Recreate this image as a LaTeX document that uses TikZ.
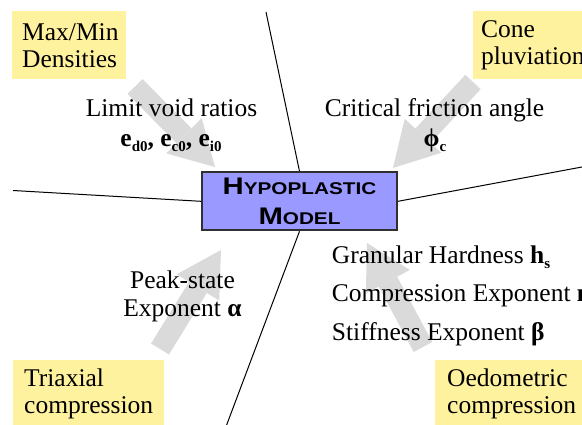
\documentclass[tikz,border=0pt]{standalone}
\usepackage{fontspec}
\setmainfont{Liberation Serif}
\newfontfamily\modelfont{Liberation Sans}[FakeStretch=1.22]
\usetikzlibrary{arrows.meta,positioning,backgrounds}
\definecolor{modelblue}{HTML}{9999FF}
\definecolor{padyellow}{HTML}{FFF29E}
\definecolor{arrowgray}{HTML}{DADADA}
\definecolor{rimgray}{HTML}{303030}
\newcommand\smallcap[1]{{\fontsize{17}{30}\selectfont #1}}
\newcommand\lowsub[1]{\raisebox{-5pt}{\fontsize{15}{15}\selectfont #1}}
\tikzset{
  model/.style={draw=rimgray, line width=2pt, fill=modelblue, minimum width=195pt, minimum height=58pt, align=center, inner sep=0pt, font=\modelfont\bfseries\fontsize{24}{30}\selectfont},
  testbox/.style={fill=padyellow, align=left, anchor=north west, minimum height=68pt, inner xsep=11pt, inner ysep=0pt, font=\fontsize{25.5}{27}\selectfont},
  txt/.style={inner sep=0pt, font=\fontsize{25.5}{27}\selectfont},
  spoke/.style={line width=1pt, black},
  fat/.style={draw=arrowgray, line width=21pt, -{Triangle[length=44pt, width=50pt, line width=0pt]}},
}
\begin{document}
\begin{tikzpicture}[x=1pt,y=-1pt]
\useasboundingbox (0,0) rectangle (582,424);
\node[model] (m) at (299.5,201.3) {H\smallcap{YPOPLASTIC}\\M\smallcap{ODEL}};
% test boxes in the corners
\node[testbox, inner xsep=10pt, text width=94pt] (dens) at (12,11) {Max/Min\\Densities};
\node[testbox, inner xsep=8pt, text width=130pt] (cone) at (473,11) {Cone\\pluviation};
\node[testbox, text width=129pt] (tri) at (13,360) {Triaxial\\compression};
\node[testbox, inner xsep=12pt, text width=140pt] (oed) at (435,360) {Oedometric\\compression};
% spoke ends and arrow ends
\coordinate (st) at (266,12);
\coordinate (sl) at (13,190.5);
\coordinate (sr) at (590,165.5);
\coordinate (sb) at (225.5,428);
\coordinate (a1) at (135,86.5);  \coordinate (b1) at (215,167);
\coordinate (a2) at (473,82);    \coordinate (b2) at (393,168);
\coordinate (a3) at (160,349);   \coordinate (b3) at (221,250);
\coordinate (a4) at (423,347);   \coordinate (b4) at (367,243);
\begin{scope}[on background layer]
\draw[spoke] (st) -- (m.north);
\draw[spoke] (sl) -- (m.west);
\draw[spoke] (sr) -- (m.east);
\draw[spoke] (sb) -- (m.south);
\draw[fat] (a1) -- (b1);
\draw[fat] (a2) -- (b2);
\draw[fat] (a3) -- (b3);
\draw[fat] (a4) -- (b4);
\end{scope}
% parameters
\node[txt, anchor=base] (void) at (171.5,116.7) {Limit void ratios};
\node[txt, anchor=base] (voide) at (171,146.7) {\bfseries e\lowsub{d0}, e\lowsub{c0}, e\lowsub{i0}};
\node[txt, anchor=base] (crit) at (434.5,116.7) {Critical friction angle};
\node[txt, anchor=base] (phi) at (435,146.7) {\bfseries ϕ\lowsub{c}};
\node[txt, anchor=base] (peak) at (182.5,288) {Peak-state};
\node[txt, anchor=base] (alpha) at (182.5,316.7) {Exponent \textbf{α}};
\node[txt, anchor=base west] (hard) at (331.7,263.3) {Granular Hardness \textbf{h\lowsub{s}}};
\node[txt, anchor=base west] (comp) at (331.7,301.7) {Compression Exponent \textbf{n}};
\node[txt, anchor=base west] (stiff) at (331.7,340) {Stiffness Exponent \textbf{β}};
\end{tikzpicture}
\end{document}
